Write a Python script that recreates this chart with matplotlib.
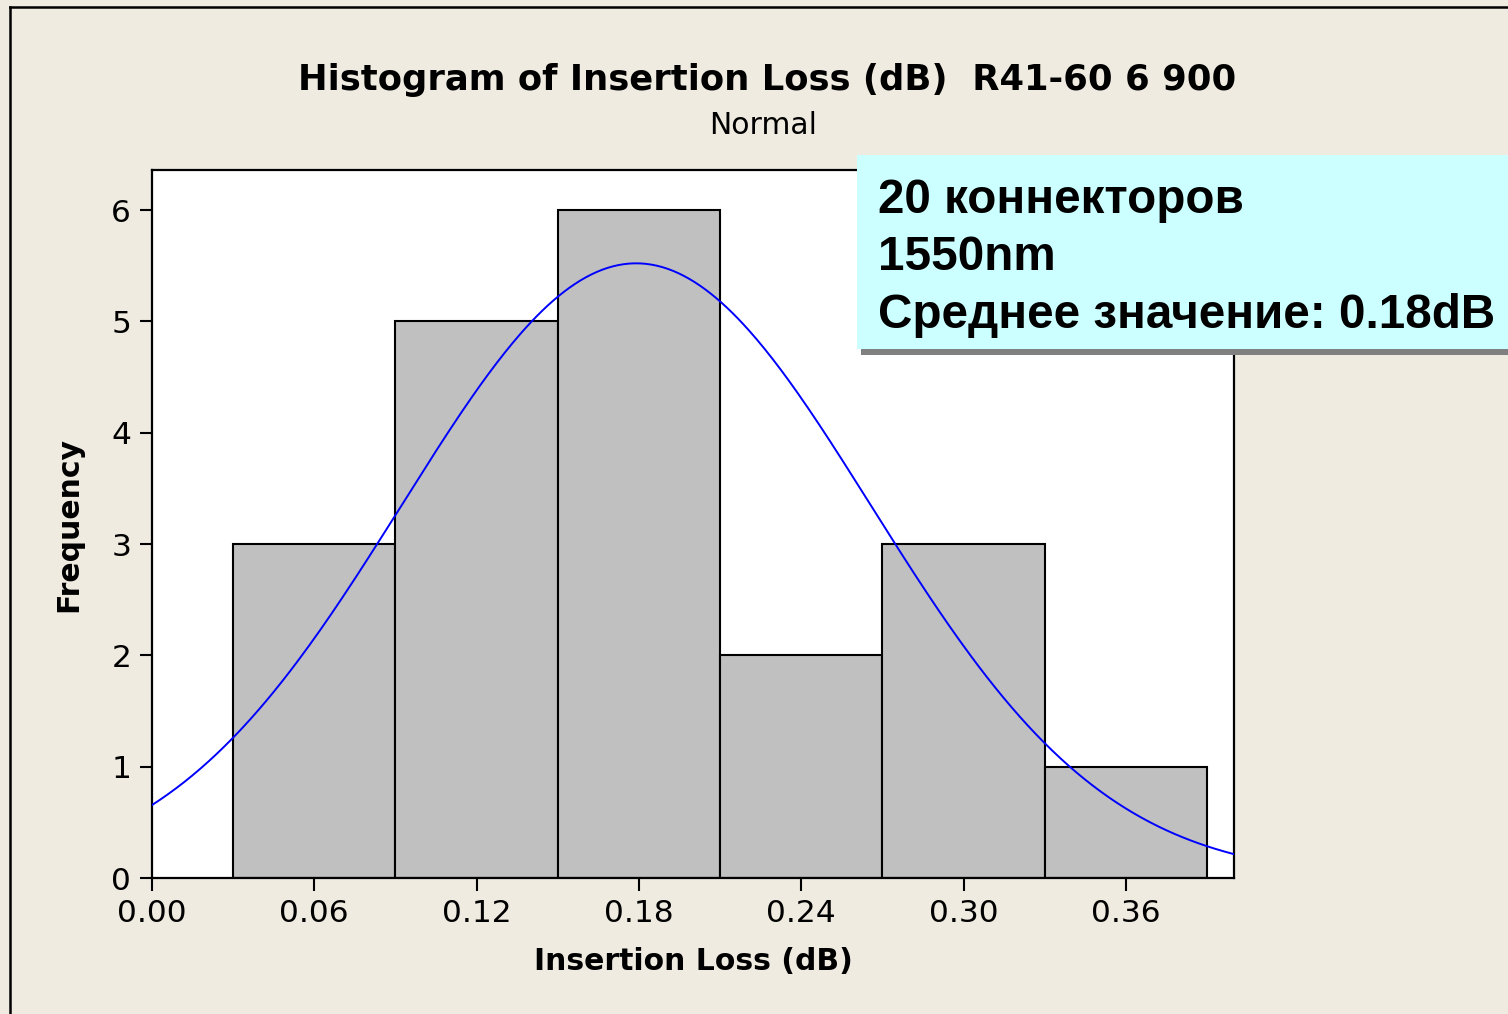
import numpy as np
import matplotlib.pyplot as plt
from matplotlib.patches import Rectangle
from matplotlib.lines import Line2D

# Данные гистограммы
bin_edges = [0.03, 0.09, 0.15, 0.21, 0.27, 0.33, 0.39]
counts = [3, 5, 6, 2, 3, 1]
n_total = 20
mean_il = 0.179
stdev_il = 0.0867
x_ticks = [0.00, 0.06, 0.12, 0.18, 0.24, 0.30, 0.36]
y_ticks = [0, 1, 2, 3, 4, 5, 6]

fundo = '#efebe1'
W, H = 1508, 1014

fig = plt.figure(figsize=(W / 100, H / 100), dpi=100, facecolor=fundo)
ax = fig.add_axes([152 / W, 1 - 878 / H, (1234 - 152) / W, (878 - 170) / H])
ax.set_facecolor('white')

larguras = np.diff(bin_edges)
ax.bar(bin_edges[:-1], counts, width=larguras, align='edge',
       color='#c0c0c0', edgecolor='black', linewidth=1.5, zorder=2)

# Curva normal ajustada
xs = np.linspace(0, 0.4, 400)
largura_bin = bin_edges[1] - bin_edges[0]
ys = n_total * largura_bin / (stdev_il * np.sqrt(2 * np.pi)) * np.exp(-0.5 * ((xs - mean_il) / stdev_il) ** 2)
ax.plot(xs, ys, color='#0000ff', linewidth=1.4, zorder=3, clip_on=True)

ax.set_xlim(0, 0.4)
ax.set_ylim(0, 6.36)
ax.set_xticks(x_ticks)
ax.set_xticklabels([f'{v:.2f}' for v in x_ticks])
ax.set_yticks(y_ticks)
ax.tick_params(direction='out', length=9, width=1.5, labelsize=22.5, pad=6)
for s in ax.spines.values():
    s.set_linewidth(1.6)

ax.set_xlabel('Insertion Loss (dB)', fontsize=21.5, fontweight='bold', labelpad=14)
ax.set_ylabel('Frequency', fontsize=21.5, fontweight='bold', labelpad=20)

fig.text(767 / W, 1 - 80 / H, 'Histogram of Insertion Loss (dB)  R41-60 6 900',
         ha='center', va='center', fontsize=25.5, fontweight='bold')
fig.text(763 / W, 1 - 125 / H, 'Normal', ha='center', va='center', fontsize=21.5)

# Moldura da figura
fig.add_artist(Line2D([10 / W, 10 / W], [0, 1 - 7 / H], transform=fig.transFigure, color='black', linewidth=1.8))
fig.add_artist(Line2D([10 / W, 1], [1 - 7 / H, 1 - 7 / H], transform=fig.transFigure, color='black', linewidth=1.8))

# Caixa de anotação com sombra
fig.add_artist(Rectangle((861 / W, 1 - 355 / H), (W - 861) / W, 10 / H, transform=fig.transFigure,
                         facecolor='#808080', edgecolor='none', zorder=5))
fig.add_artist(Rectangle((857 / W, 1 - 349 / H), (W - 857) / W, (349 - 155) / H, transform=fig.transFigure,
                         facecolor='#ccffff', edgecolor='none', zorder=6))
linhas = ['20 коннекторов', '1550nm', 'Среднее значение: 0.18dB']
for i, txt in enumerate(linhas):
    fig.text(878 / W, 1 - (213 + i * 57.5) / H, txt, ha='left', va='baseline',
             fontsize=34.3, fontweight='bold', family='Liberation Sans', zorder=7)

fig.savefig('out.png', dpi=100, facecolor=fundo)
